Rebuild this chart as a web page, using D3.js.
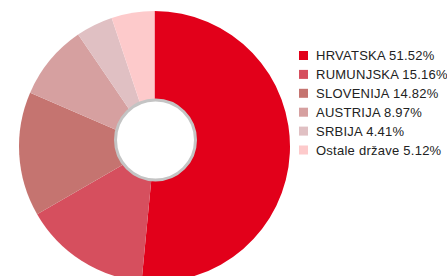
<!DOCTYPE html>
<html>
<head>
<meta charset="utf-8">
<script src="https://cdn.jsdelivr.net/npm/d3@7"></script>
<style>
  body { margin: 0; background: #fff; }
  svg { display: block; }
</style>
</head>
<body>
<div id="chart"></div>
<script>
// Data
var countries = ["HRVATSKA", "RUMUNJSKA", "SLOVENIJA", "AUSTRIJA", "SRBIJA", "Ostale države"];
var shares = [51.52, 15.16, 14.82, 8.97, 4.41, 5.12];
var colors = ["#e2001a", "#d64f5e", "#c57470", "#d6a0a0", "#e0c0c3", "#fdcacb"];

var width = 447, height = 276;
var cx = 154.5, cy = 146.5, outerR = 135.5;
// the white hole sits a little above the pie centre in the original
var holeX = 155.5, holeY = 140, holeR = 40;

var data = countries.map(function (c, i) { return { name: c, value: shares[i], color: colors[i] }; });

var svg = d3.select("#chart")
  .append("svg")
  .attr("width", width)
  .attr("height", height);

var pie = d3.pie()
  .value(function (d) { return d.value; })
  .sort(null);

var arc = d3.arc()
  .innerRadius(0)
  .outerRadius(outerR);

var g = svg.append("g")
  .attr("transform", "translate(" + cx + "," + cy + ")");

g.selectAll("path")
  .data(pie(data))
  .enter()
  .append("path")
  .attr("d", arc)
  .attr("fill", function (d) { return d.data.color; });

// white hole with grey ring
svg.append("circle")
  .attr("cx", holeX)
  .attr("cy", holeY)
  .attr("r", holeR)
  .attr("fill", "#fff")
  .attr("stroke", "#c4c4c4")
  .attr("stroke-width", 3);

// Legend
var legend = svg.append("g")
  .attr("transform", "translate(299,51)");

var keys = legend.selectAll(".legend-key")
  .data(data)
  .enter()
  .append("g")
  .attr("class", "legend-key")
  .attr("transform", function (d, i) { return "translate(0," + (i * 18.9) + ")"; });

keys.append("rect")
  .attr("width", 9)
  .attr("height", 9)
  .attr("fill", function (d) { return d.color; });

keys.append("text")
  .attr("x", 17)
  .attr("y", 4.5)
  .attr("dy", "0.36em")
  .style("font-family", "Liberation Sans, Arial, sans-serif")
  .style("font-size", "13px")
  .style("letter-spacing", "0.25px")
  .attr("fill", "#222")
  .text(function (d) { return d.name + " " + d3.format(".2f")(d.value) + "%"; });
</script>
</body>
</html>
